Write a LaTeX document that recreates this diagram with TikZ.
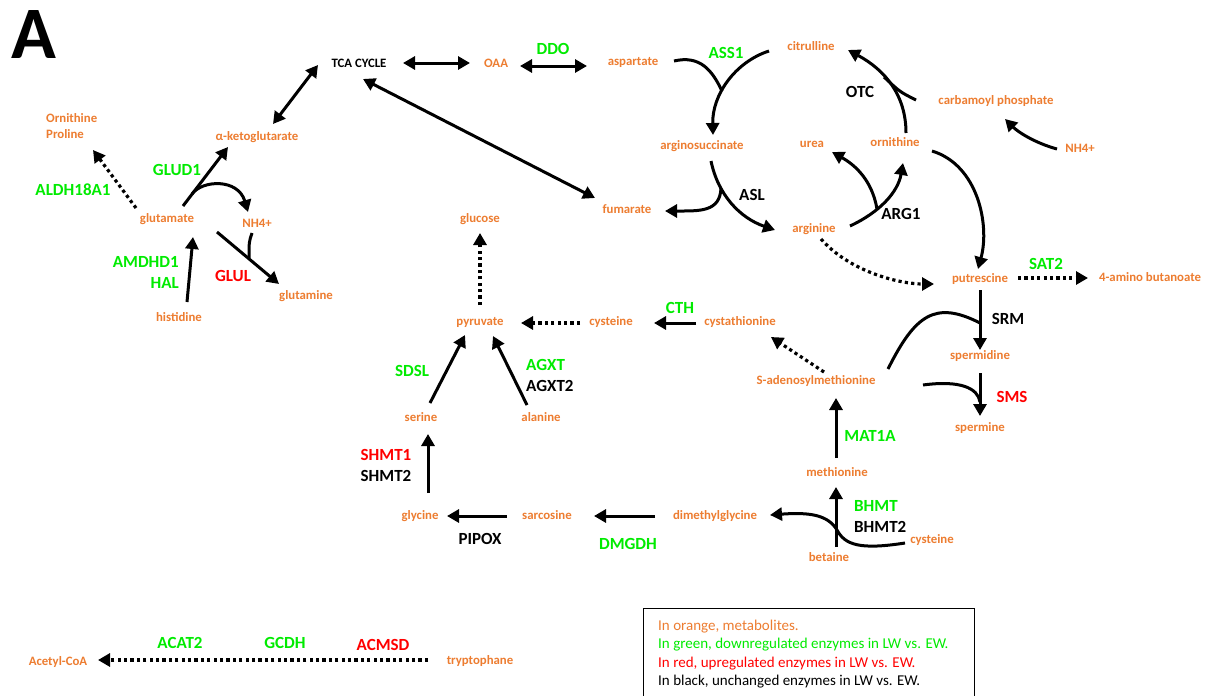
\documentclass[tikz,border=0pt]{standalone}
\usepackage{fontspec}
\setmainfont{Carlito}
\usetikzlibrary{arrows.meta}
\definecolor{metor}{HTML}{ED7D31}
\definecolor{enzgreen}{RGB}{0,235,0}
\definecolor{enzred}{RGB}{255,0,0}
\newcommand\metfont{\bfseries\fontsize{12.8}{16}\selectfont}
\newcommand\enzfont{\bfseries\fontsize{17}{20}\selectfont}
\newcommand\legfont{\fontsize{15}{18}\selectfont}
\tikzset{
  met/.style={text=metor, font=\metfont, inner sep=0pt, anchor=base},
  enz/.style={font=\enzfont, inner sep=0pt, anchor=base},
  up/.style={text=enzgreen},
  dn/.style={text=enzred},
  leg/.style={font=\legfont, inner sep=0pt, anchor=base west},
  tip/.style={-{Triangle[length=12pt,width=13pt]}},
  arr/.style={line width=3pt, tip},
  darr/.style={line width=3pt, {Triangle[length=12pt,width=13pt]}-{Triangle[length=12pt,width=13pt]}},
  dotarr/.style={line width=3.2pt, dash pattern=on 3.2pt off 3.2pt, tip},
  plain/.style={line width=3pt},
}
\begin{document}
\begin{tikzpicture}[x=1pt,y=-1pt]
\useasboundingbox (0,0) rectangle (1210,696);
\fill[white] (0,0) rectangle (1210,696);

% panel letter
\node[font=\bfseries\fontsize{74}{74}\selectfont, inner sep=0pt, anchor=base] (panel) at (34,58) {A};

% ---------------- metabolites ----------------
\node[met, anchor=base west] (ornith) at (46,122) {Ornithine};
\node[met, anchor=base west] (proline) at (46,138) {Proline};
\node[met] (akg) at (257,140) {α-ketoglutarate};
\node[met] (glutamate) at (167,222) {glutamate};
\node[met] (nhl) at (257,227) {NH4+};
\node[met] (glutamine) at (306,299) {glutamine};
\node[met] (histidine) at (179,321) {histidine};
\node[font=\metfont, inner sep=0pt, anchor=base] (tca) at (359,67) {TCA CYCLE};
\node[met] (oaa) at (496,67) {OAA};
\node[met] (aspartate) at (633,65) {aspartate};
\node[met] (citrulline) at (811,50) {citrulline};
\node[met] (carbp) at (996,104) {carbamoyl phosphate};
\node[met] (nhr) at (1080,152) {NH4+};
\node[met] (ornithine) at (895,146) {ornithine};
\node[met] (urea) at (812,147) {urea};
\node[met] (argsucc) at (702,149) {arginosuccinate};
\node[met] (fumarate) at (627,213) {fumarate};
\node[met] (glucose) at (480,222) {glucose};
\node[met] (arginine) at (814,232) {arginine};
\node[met] (putrescine) at (980,282) {putrescine};
\node[met] (amino) at (1150,281) {4-amino butanoate};
\node[met] (pyruvate) at (480,325) {pyruvate};
\node[met] (cysteinea) at (611,325) {cysteine};
\node[met] (cystathionine) at (740,325) {cystathionine};
\node[met] (sam) at (816,384) {S-adenosylmethionine};
\node[met] (spermidine) at (980,359) {spermidine};
\node[met] (spermine) at (980,431) {spermine};
\node[met] (serine) at (421,421) {serine};
\node[met] (alanine) at (541,421) {alanine};
\node[met] (glycine) at (420,519) {glycine};
\node[met] (sarcosine) at (547,519) {sarcosine};
\node[met] (dmg) at (715,519) {dimethylglycine};
\node[met] (methionine) at (837,476) {methionine};
\node[met] (betaine) at (829,561) {betaine};
\node[met] (cysteineb) at (932,543) {cysteine};
\node[met] (acetyl) at (58,665) {Acetyl-CoA};
\node[met] (trp) at (480,664) {tryptophane};

% ---------------- enzymes ----------------
\node[enz, up] (aldh) at (73,195) {ALDH18A1};
\node[enz, up] (glud) at (177,175) {GLUD1};
\node[enz, up, anchor=base east] (amdhd) at (179,267) {AMDHD1};
\node[enz, up, anchor=base east] (hal) at (179,288) {HAL};
\node[enz, dn] (glul) at (233,281) {GLUL};
\node[enz, up] (ddo) at (553,54) {DDO};
\node[enz, up] (ass) at (726,58) {ASS1};
\node[enz] (asl) at (752,200) {ASL};
\node[enz] (otc) at (860,97) {OTC};
\node[enz] (arg) at (901,219) {ARG1};
\node[enz, up] (sat) at (1046,269) {SAT2};
\node[enz] (srm) at (1008,324) {SRM};
\node[enz, dn] (sms) at (1012,402) {SMS};
\node[enz, up] (cth) at (680,313) {CTH};
\node[enz, up] (sdsl) at (412,376) {SDSL};
\node[enz, up, anchor=base west] (agxt) at (526,370) {AGXT};
\node[enz, anchor=base west] (agxtb) at (526,391) {AGXT2};
\node[enz, dn] (shmta) at (386,460) {SHMT1};
\node[enz] (shmtb) at (386,481) {SHMT2};
\node[enz] (pipox) at (480,544) {PIPOX};
\node[enz, up] (dmgdh) at (628,549) {DMGDH};
\node[enz, up] (mat) at (870,441) {MAT1A};
\node[enz, up, anchor=base west] (bhmt) at (854,511) {BHMT};
\node[enz, anchor=base west] (bhmtb) at (854,532) {BHMT2};
\node[enz, up] (acat) at (180,648) {ACAT2};
\node[enz, up] (gcdh) at (285,648) {GCDH};
\node[enz, dn] (acmsd) at (383,650) {ACMSD};

% ---------------- connector end points ----------------
\coordinate (tcaR) at (403,63);  \coordinate (oaaL) at (470,63);
\coordinate (oaaR) at (520,66);  \coordinate (aspL) at (587,66);
\coordinate (akgT) at (273,124); \coordinate (tcaB) at (318,65);
\coordinate (tcaD) at (363,79);  \coordinate (fumT) at (595,198);
\coordinate (gluUL) at (136,208); \coordinate (opB) at (93,150);
\coordinate (gluUR) at (183,206); \coordinate (akgB) at (228,147);
\coordinate (gludJ) at (192,194); \coordinate (nhlT) at (248,212);
\coordinate (hisT) at (187,302); \coordinate (gluB) at (193,237);
\coordinate (gluDR) at (217,232); \coordinate (glnT) at (279,284);
\coordinate (nhlB) at (252,233); \coordinate (glulJ) at (249,258);
\coordinate (aspR) at (674,61); \coordinate (citL) at (769,51);
\coordinate (assJ) at (722,91); \coordinate (asT) at (713,135);
\coordinate (asB) at (711,161); \coordinate (argT) at (775,230);
\coordinate (aslJ) at (721,188); \coordinate (fumR) at (665,211);
\coordinate (ornT) at (906,133); \coordinate (citR) at (848,50);
\coordinate (cpL) at (916,100); \coordinate (otcJ) at (884,77);
\coordinate (nhrL) at (1057,149); \coordinate (cpB) at (1005,119);
\coordinate (argR) at (850,226); \coordinate (ornB) at (903,163);
\coordinate (arg1J) at (877,209); \coordinate (ureaB) at (832,152);
\coordinate (ornR) at (932,151); \coordinate (putT) at (978,269);
\coordinate (argB) at (821,239); \coordinate (putL) at (934,284);
\coordinate (putR) at (1018,278); \coordinate (amiL) at (1088,278);
\coordinate (putB) at (980,290); \coordinate (spdT) at (980,350);
\coordinate (samUR) at (888,369); \coordinate (srmJ) at (980,323);
\coordinate (spdB) at (980,373); \coordinate (spmT) at (980,416);
\coordinate (samR) at (923,385); \coordinate (smsJ) at (980,402);
\coordinate (samUL) at (824,372); \coordinate (cysthB) at (771,337);
\coordinate (cysthL) at (696,323); \coordinate (cysR) at (654,323);
\coordinate (cysL) at (580,323); \coordinate (pyrR) at (521,323);
\coordinate (pyrT) at (480,305); \coordinate (glcB) at (480,233);
\coordinate (serT) at (430,403); \coordinate (pyrBL) at (465,335);
\coordinate (alaT) at (527,405); \coordinate (pyrBR) at (493,336);
\coordinate (glyT) at (428,493); \coordinate (serB) at (428,434);
\coordinate (sarL) at (507,516); \coordinate (glyR) at (447,516);
\coordinate (dmgL2) at (655,516); \coordinate (sarR) at (594,516);
\coordinate (metT) at (836,458); \coordinate (samB) at (836,398);
\coordinate (betT) at (836,547); \coordinate (metB) at (836,487);
\coordinate (cysbL) at (905,543); \coordinate (bhmtJ) at (837,530); \coordinate (dmgR) at (770,515);
\coordinate (trpL) at (428,660); \coordinate (acR) at (98,660);

% ---------------- connectors ----------------
\draw[darr] (tcaR) -- (oaaL);
\draw[darr] (oaaR) -- (aspL);
\draw[darr] (akgT) -- (tcaB);
\draw[darr] (tcaD) -- (fumT);

\draw[dotarr] (gluUL) -- (opB);
\draw[arr] (gluUR) -- (akgB);
\draw[arr] (gludJ) .. controls (202,180) and (238,178) .. (nhlT);
\draw[arr] (hisT) -- (gluB);
\draw[arr] (gluDR) -- (glnT);
\draw[plain] (nhlB) .. controls (249,242) .. (glulJ);

\draw[arr] (citL) .. controls (735,62) and (712,95) .. (asT);
\draw[plain] (aspR) .. controls (700,55) and (712,70) .. (assJ);

\draw[arr] (asB) .. controls (718,195) and (740,218) .. (argT);
\draw[arr] (aslJ) .. controls (720,212) and (700,211) .. (fumR);

\draw[arr] (ornT) .. controls (906,95) and (885,70) .. (citR);
\draw[plain] (cpL) .. controls (900,92) .. (otcJ);
\draw[arr] (nhrL) .. controls (1035,143) and (1018,132) .. (cpB);

\draw[arr] (argR) .. controls (880,212) and (898,192) .. (ornB);
\draw[arr] (arg1J) .. controls (872,180) and (855,165) .. (ureaB);
\draw[arr] (ornR) .. controls (978,165) and (990,225) .. (putT);
\draw[dotarr] (argB) .. controls (850,272) and (900,284) .. (putL);
\draw[dotarr] (putR) -- (amiL);

\draw[arr] (putB) -- (spdT);
\draw[plain] (samUR) .. controls (915,315) and (935,300) .. (srmJ);
\draw[arr] (spdB) -- (spmT);
\draw[plain] (samR) .. controls (960,380) and (978,388) .. (smsJ);

\draw[dotarr] (samUL) -- (cysthB);
\draw[arr] (cysthL) -- (cysR);
\draw[dotarr] (cysL) -- (pyrR);
\draw[dotarr] (pyrT) -- (glcB);
\draw[arr] (serT) -- (pyrBL);
\draw[arr] (alaT) -- (pyrBR);
\draw[arr] (glyT) -- (serB);
\draw[arr] (sarL) -- (glyR);
\draw[arr] (dmgL2) -- (sarR);
\draw[arr] (metT) -- (samB);
\draw[arr] (betT) -- (metB);
\draw[arr] (cysbL) .. controls (860,550) and (845,545) .. (bhmtJ)
                   .. controls (828,515) and (810,512) .. (dmgR);

\draw[dotarr] (trpL) -- (acR);

% ---------------- legend ----------------
\draw[line width=1pt] (643,696) -- (643,608) -- (974,608) -- (974,696);
\node[leg, text=metor] (lega) at (658,630) {In orange, metabolites.};
\node[leg, text=enzgreen] (legb) at (658,648) {In green, downregulated enzymes in LW vs. EW.};
\node[leg, text=enzred] (legc) at (658,667) {In red, upregulated enzymes in LW vs. EW.};
\node[leg] (legd) at (658,685) {In black, unchanged enzymes in LW vs. EW.};
\end{tikzpicture}
\end{document}
